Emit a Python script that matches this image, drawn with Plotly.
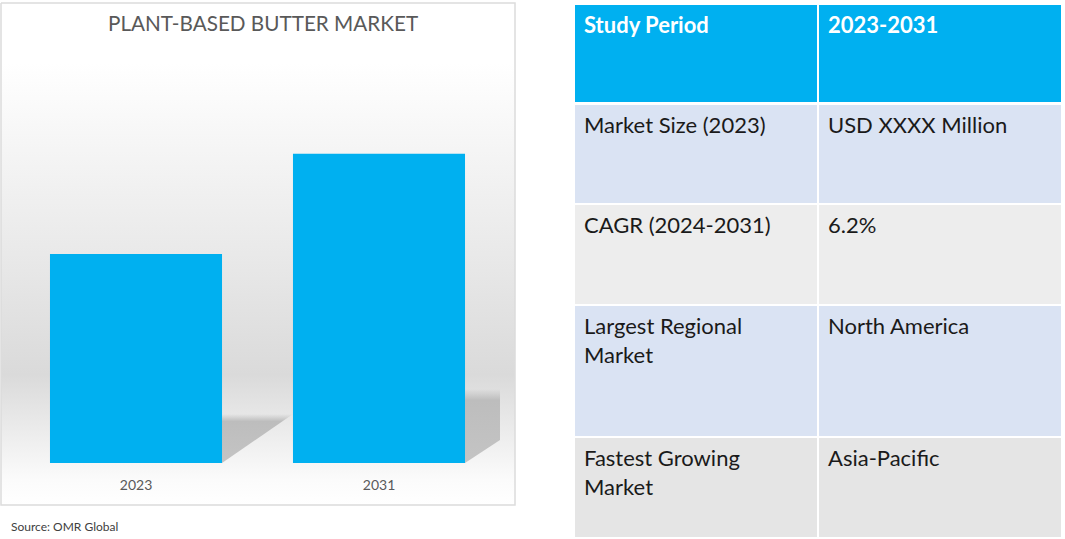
import plotly.graph_objects as go

FONT = "Lato"
BLUE = "#00b0f0"

# Bar chart data (no value axis in the source, so indexed to 2023 = 100)
years = ["2023", "2031"]
market_index = [100, 148]

# Table contents
left_col = ["Study Period", "Market Size (2023)", "CAGR (2024-2031)",
            "Largest Regional<br>Market", "Fastest Growing<br>Market"]
right_col = ["2023-2031", "USD XXXX Million", "6.2%", "North America", "Asia-Pacific"]
row_tops = [5, 105, 205, 306, 438]
row_bottoms = [102, 203, 304, 436, 537]
row_colors = [BLUE, "#dae3f3", "#ededed", "#dae3f3", "#e5e5e5"]

W, H = 1065, 539

fig = go.Figure()

# --- background panel, drawn on a full-page pixel axis ---
# y axis is reversed here, so gradient stops run bottom to top
fig.add_trace(go.Scatter(
    x=[1, 515, 515, 1, 1], y=[3, 3, 505, 505, 3],
    mode="lines", fill="toself",
    line=dict(color="#dcdcdc", width=1.5),
    fillgradient=dict(type="vertical", colorscale=[
        [0, "#ffffff"], [0.05, "#fbfbfb"], [0.26, "#dadada"],
        [0.5, "#e9e9e9"], [0.88, "#ffffff"], [1, "#ffffff"]]),
    hoverinfo="skip", showlegend=False, xaxis="x", yaxis="y",
))

# bar shadows
shadow_scale = [[0, "#c4c4c4"], [0.85, "#bdbdbd"], [1, "rgba(189,189,189,0)"]]
for sx, sy in [([222, 293, 222, 222], [414, 414, 463, 414]),
               ([465, 500, 500, 465, 465], [389, 389, 440, 463, 389])]:
    fig.add_trace(go.Scatter(
        x=sx, y=sy, mode="lines", fill="toself", line=dict(width=0),
        fillgradient=dict(type="vertical", colorscale=shadow_scale),
        hoverinfo="skip", showlegend=False, xaxis="x", yaxis="y",
    ))

# --- bars ---
fig.add_trace(go.Bar(
    x=years, y=market_index, width=0.708,
    marker=dict(color=BLUE, line=dict(width=0)),
    showlegend=False, xaxis="x2", yaxis="y2",
))

# --- table ---
shapes = []
annotations = []
for i in range(len(left_col)):
    for x0, x1, txt in [(575, 817, left_col[i]), (819, 1061, right_col[i])]:
        shapes.append(dict(type="rect", xref="paper", yref="paper",
                           x0=x0 / W, x1=x1 / W,
                           y0=1 - row_bottoms[i] / H, y1=1 - row_tops[i] / H,
                           fillcolor=row_colors[i], line=dict(width=0), layer="below"))
        annotations.append(dict(
            xref="paper", yref="paper", x=(x0 + 6.5) / W, y=1 - (row_tops[i] + 3.5) / H,
            xanchor="left", yanchor="top", align="left", showarrow=False,
            text=f"<b>{txt}</b>" if i == 0 else txt,
            font=dict(family=FONT, size=22, color="#ffffff" if i == 0 else "#1a1a1a"),
        ))

annotations.append(dict(xref="paper", yref="paper", x=262.5 / W, y=1 - 23 / H,
                        xanchor="center", yanchor="middle", showarrow=False,
                        text="PLANT-BASED BUTTER MARKET",
                        font=dict(family=FONT, size=20.7, color="#595959")))
annotations.append(dict(xref="paper", yref="paper", x=9 / W, y=1 - 526 / H,
                        xanchor="left", yanchor="middle", showarrow=False,
                        text="Source: OMR Global",
                        font=dict(family=FONT, size=12, color="#404040")))

fig.update_layout(
    width=W, height=H,
    margin=dict(l=0, r=0, t=0, b=0),
    paper_bgcolor="#ffffff", plot_bgcolor="rgba(0,0,0,0)",
    shapes=shapes, annotations=annotations,
    xaxis=dict(domain=[0, 1], range=[0, W], visible=False, fixedrange=True),
    yaxis=dict(domain=[0, 1], range=[H, 0], visible=False, fixedrange=True),
    xaxis2=dict(domain=[14.5 / W, 500.5 / W], anchor="y2", type="category",
                range=[-0.5, 1.5], showgrid=False, showline=False, ticks="",
                ticklabelstandoff=12,
                tickfont=dict(family=FONT, size=14, color="#595959")),
    yaxis2=dict(domain=[76 / H, 494 / H], anchor="x2", range=[0, 200],
                visible=False, fixedrange=True),
)

fig.write_html("out.html", config=dict(displayModeBar=False),
               post_script="document.body.style.margin='0';")
